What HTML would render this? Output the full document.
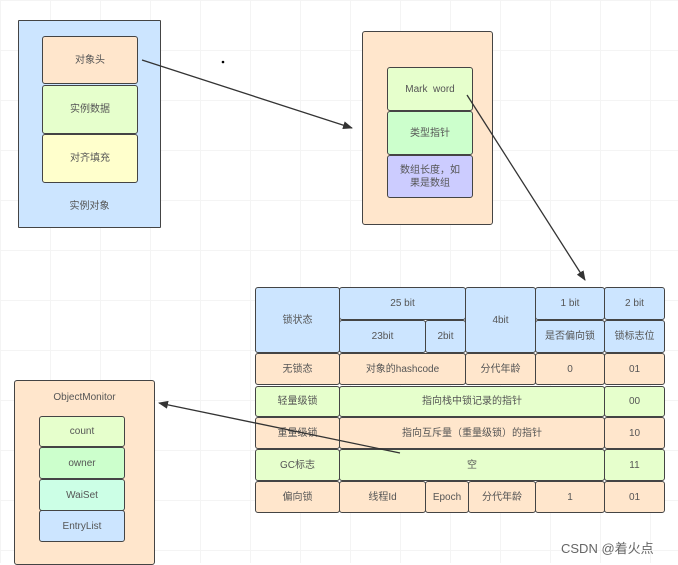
<!DOCTYPE html>
<html><head><meta charset="utf-8"><style>
body{margin:0;width:678px;height:563px;overflow:hidden;background:#fff;font-family:"Liberation Sans","Noto Sans CJK SC",sans-serif;color:#555;position:relative}
.b{position:absolute;box-sizing:border-box;border:1.5px solid #444;border-radius:3px;display:flex;align-items:center;justify-content:center;text-align:center;font-size:10px;line-height:13px}
.grid{position:absolute;inset:0;background-image:linear-gradient(#eee 1px,transparent 1px),linear-gradient(90deg,#eee 1px,transparent 1px);background-size:50px 50px;opacity:.6}
</style></head><body>
<div class="grid"></div>
<!-- left -->
<div class="b" style="left:18px;top:20px;width:143px;height:208px;background:#cce5ff;border-radius:1px;align-items:flex-end;padding-bottom:14px">实例对象</div>
<div class="b" style="left:42px;top:36px;width:96px;height:48px;background:#ffe6cc">对象头</div>
<div class="b" style="left:42px;top:85px;width:96px;height:49px;background:#e6ffcc">实例数据</div>
<div class="b" style="left:42px;top:134px;width:96px;height:49px;background:#ffffcc">对齐填充</div>
<!-- middle -->
<div class="b" style="left:362px;top:31px;width:131px;height:194px;background:#ffe6cc"></div>
<div class="b" style="left:387px;top:67px;width:86px;height:44px;background:#e6ffcc">Mark&nbsp; word</div>
<div class="b" style="left:387px;top:111px;width:86px;height:44px;background:#ccffcc">类型指针</div>
<div class="b" style="left:387px;top:155px;width:86px;height:43px;background:#ccccff">数组长度，如<br>果是数组</div>
<!-- monitor -->
<div class="b" style="left:14px;top:380px;width:141px;height:185px;background:#ffe6cc;align-items:flex-start;padding-top:10px">ObjectMonitor</div>
<div class="b" style="left:39px;top:416px;width:86px;height:31px;background:#e6ffcc">count</div>
<div class="b" style="left:39px;top:447px;width:86px;height:32px;background:#ccffcc">owner</div>
<div class="b" style="left:39px;top:479px;width:86px;height:32px;background:#ccffe6">WaiSet</div>
<div class="b" style="left:39px;top:510px;width:86px;height:32px;background:#cce5ff">EntryList</div>
<!-- table -->
<div class="b" style="left:255px;top:287px;width:85px;height:66px;background:#cce5ff">锁状态</div>
<div class="b" style="left:339px;top:287px;width:127px;height:33px;background:#cce5ff">25 bit</div>
<div class="b" style="left:339px;top:320px;width:87px;height:33px;background:#cce5ff">23bit</div>
<div class="b" style="left:425px;top:320px;width:41px;height:33px;background:#cce5ff">2bit</div>
<div class="b" style="left:465px;top:287px;width:71px;height:66px;background:#cce5ff">4bit</div>
<div class="b" style="left:535px;top:287px;width:70px;height:33px;background:#cce5ff">1 bit</div>
<div class="b" style="left:535px;top:320px;width:70px;height:33px;background:#cce5ff">是否偏向锁</div>
<div class="b" style="left:604px;top:287px;width:61px;height:33px;background:#cce5ff">2 bit</div>
<div class="b" style="left:604px;top:320px;width:61px;height:33px;background:#cce5ff">锁标志位</div>

<div class="b" style="left:255px;top:353px;width:85px;height:32px;background:#ffe6cc">无锁态</div>
<div class="b" style="left:339px;top:353px;width:127px;height:32px;background:#ffe6cc">对象的hashcode</div>
<div class="b" style="left:465px;top:353px;width:71px;height:32px;background:#ffe6cc">分代年龄</div>
<div class="b" style="left:535px;top:353px;width:70px;height:32px;background:#ffe6cc">0</div>
<div class="b" style="left:604px;top:353px;width:61px;height:32px;background:#ffe6cc">01</div>

<div class="b" style="left:255px;top:386px;width:85px;height:31px;background:#e6ffcc">轻量级锁</div>
<div class="b" style="left:339px;top:386px;width:266px;height:31px;background:#e6ffcc">指向栈中锁记录的指针</div>
<div class="b" style="left:604px;top:386px;width:61px;height:31px;background:#e6ffcc">00</div>

<div class="b" style="left:255px;top:417px;width:85px;height:32px;background:#ffe6cc">重量级锁</div>
<div class="b" style="left:339px;top:417px;width:266px;height:32px;background:#ffe6cc">指向互斥量（重量级锁）的指针</div>
<div class="b" style="left:604px;top:417px;width:61px;height:32px;background:#ffe6cc">10</div>

<div class="b" style="left:255px;top:449px;width:85px;height:32px;background:#e6ffcc">GC标志</div>
<div class="b" style="left:339px;top:449px;width:266px;height:32px;background:#e6ffcc">空</div>
<div class="b" style="left:604px;top:449px;width:61px;height:32px;background:#e6ffcc">11</div>

<div class="b" style="left:255px;top:481px;width:85px;height:32px;background:#ffe6cc">偏向锁</div>
<div class="b" style="left:339px;top:481px;width:87px;height:32px;background:#ffe6cc">线程Id</div>
<div class="b" style="left:425px;top:481px;width:44px;height:32px;background:#ffe6cc">Epoch</div>
<div class="b" style="left:468px;top:481px;width:68px;height:32px;background:#ffe6cc">分代年龄</div>
<div class="b" style="left:535px;top:481px;width:70px;height:32px;background:#ffe6cc">1</div>
<div class="b" style="left:604px;top:481px;width:61px;height:32px;background:#ffe6cc">01</div>

<svg style="position:absolute;left:0;top:0" width="678" height="563">
<defs><marker id="a" markerWidth="10" markerHeight="8" refX="9" refY="4" orient="auto" markerUnits="userSpaceOnUse"><path d="M0,0 L10,4 L0,8 Z" fill="#333"/></marker></defs>
<g stroke="#333" stroke-width="1.3" fill="none" marker-end="url(#a)">
<line x1="142" y1="60" x2="352" y2="128"/>
<line x1="467" y1="95" x2="585" y2="280"/>
<line x1="400" y1="453" x2="159" y2="403"/>
</g>
<circle cx="223" cy="62" r="1.3" fill="#000"/>
</svg>
<div style="position:absolute;left:561px;top:538px;font-size:13px;color:#666">CSDN @着火点</div>
</body></html>
